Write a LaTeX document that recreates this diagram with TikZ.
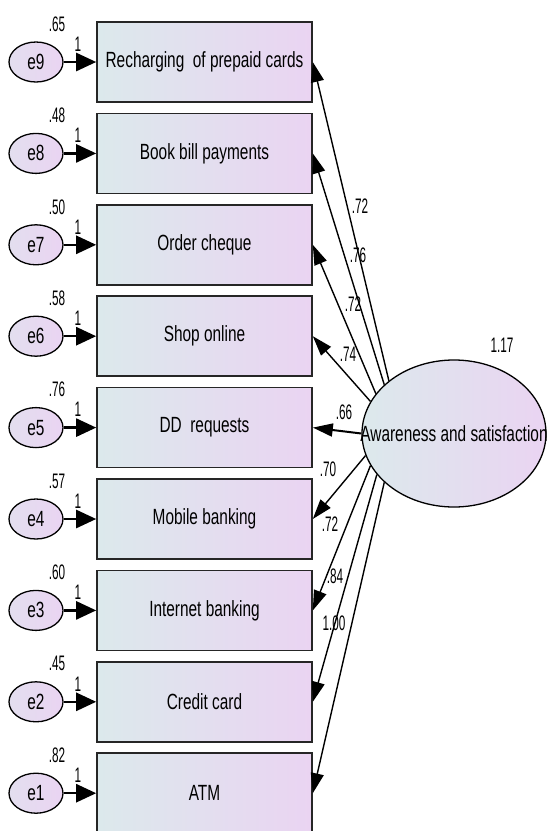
\documentclass[tikz,border=0pt]{standalone}
\usepackage{fontspec}
\setmainfont{Liberation Sans}
\usepackage{graphicx}
\usetikzlibrary{arrows.meta,shapes.geometric}
\definecolor{gl}{RGB}{220,233,236}
\definecolor{gr}{RGB}{234,212,242}
\newcommand{\bt}[1]{\scalebox{0.70}[1]{#1}}
\newcommand{\nt}[1]{\scalebox{0.56}[1]{#1}}
\begin{document}
\begin{tikzpicture}[x=1pt,y=-1pt,
 obs/.style={draw=black!85, line width=1.6pt, minimum width=215pt, minimum height=80pt, left color=gl, right color=gr, inner sep=0pt, font=\fontsize{22}{24}\selectfont},
 err/.style={ellipse, draw, line width=1.3pt, minimum width=54pt, minimum height=40pt, left color=gl!50!gr, right color=gr, inner sep=0pt, font=\fontsize{22}{24}\selectfont},
 lat/.style={ellipse, draw, line width=1.3pt, minimum width=184pt, minimum height=147pt, left color=gl, right color=gr, inner sep=0pt, font=\fontsize{22}{24}\selectfont},
 lbl/.style={font=\fontsize{21}{22}\selectfont, inner sep=0pt},
 earr/.style={line width=2.5pt, -{Triangle[length=20pt,width=18pt]}},
 larr/.style={line width=1.4pt, -{Triangle[length=20pt,width=13pt]}},
]
\path[use as bounding box, fill=white] (0,0) rectangle (547,831);

\foreach \n/\t/\v [count=\k from 0] in {
  9/Recharging\ \ of prepaid cards/.65,
  8/Book bill payments/.48,
  7/Order cheque/.50,
  6/Shop online/.58,
  5/DD\ \ requests/.76,
  4/Mobile banking/.57,
  3/Internet banking/.60,
  2/Credit card/.45,
  1/ATM/.82} {
  \pgfmathsetmacro\yy{62+91.4*\k}
  \node[obs] (o\n) at (204.5,\yy) {\bt{\t}};
  \node[err] (e\n) at (36,\yy) {\bt{e\n}};
  \node[lbl] (v\n) at (57,\yy-38) {\nt{\v}};
  \node[lbl] (w\n) at (78,\yy-18) {\nt{1}};
  \draw[earr] (e\n) -- (o\n);
}

\node[lat] (F) at (454,433.5) {\makebox[0pt]{\bt{Awareness and satisfaction}}};
\node[lbl] (FV) at (502,345) {\nt{1.17}};

\draw[larr] (F.141.4) -- (o9.east);
\draw[larr] (F.145.7) -- (o8.east);
\draw[larr] (F.153.8) -- (o7.east);
\draw[larr] (F.159.8) -- (o6.east);
\draw[larr, line width=2pt] (F.180) -- (o5.east);
\draw[larr] (F.194.1) -- (o4.east);
\draw[larr] (F.201.6) -- (o3.east);
\draw[larr] (F.208.2) -- (o2.east);
\draw[larr] (F.215.7) -- (o1.east);

\node[lbl] (l9) at (360,206) {\nt{.72}};
\node[lbl] (l8) at (358,255) {\nt{.76}};
\node[lbl] (l7) at (353,304) {\nt{.72}};
\node[lbl] (l6) at (348,354) {\nt{.74}};
\node[lbl] (l5) at (344,412) {\nt{.66}};
\node[lbl] (l4) at (328,469) {\nt{.70}};
\node[lbl] (l3) at (330,524) {\nt{.72}};
\node[lbl] (l2) at (335,576) {\nt{.84}};
\node[lbl] (l1) at (334,623.5) {\nt{1.00}};
\end{tikzpicture}
\end{document}
